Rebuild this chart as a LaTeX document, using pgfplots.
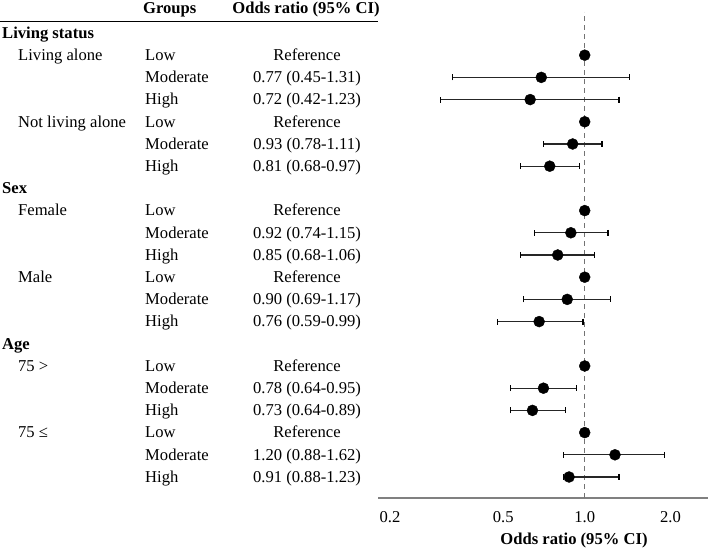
\documentclass[border=0pt]{standalone}
\usepackage{fontspec}
\setmainfont{Liberation Serif}
\usepackage{pgfplots}
\usepackage{pgfplotstable}
\pgfplotsset{compat=1.18}

% pos = vertical row position (counted from the bottom), or = odds ratio, lo/hi = 95% CI
\pgfplotstableread{
pos or lo hi
20 1.00 1.00 1.00
19 0.77 0.45 1.31
18 0.72 0.42 1.23
17 1.00 1.00 1.00
16 0.93 0.78 1.11
15 0.81 0.68 0.97
13 1.00 1.00 1.00
12 0.92 0.74 1.15
11 0.85 0.68 1.06
10 1.00 1.00 1.00
9  0.90 0.69 1.17
8  0.76 0.59 0.99
6  1.00 1.00 1.00
5  0.78 0.64 0.95
4  0.73 0.64 0.89
3  1.00 1.00 1.00
2  1.20 0.88 1.62
1  0.91 0.88 1.23
}\ordata

% row k (1 = top row "Living status") baseline
\newcommand{\colA}[2]{\node[anchor=base west,inner sep=0pt] at (2,{533.9-22.2*#1}) {\bfseries #2};}
\newcommand{\colB}[2]{\node[anchor=base west,inner sep=0pt] at (18,{533.9-22.2*#1}) {#2};}
\newcommand{\colC}[2]{\node[anchor=base west,inner sep=0pt] at (145,{533.9-22.2*#1}) {#2};}
\newcommand{\colD}[2]{\node[anchor=base,inner sep=0pt] at (307,{533.9-22.2*#1}) {#2};}

\begin{document}
\fontsize{16.6bp}{19bp}\selectfont
\begin{tikzpicture}[x=1bp,y=1bp]
\path[use as bounding box] (0,0) rectangle (708,550);

% header
\node[anchor=base west,inner sep=0pt] at (143,536) {\bfseries Groups};
\node[anchor=base,inner sep=0pt] at (306,536) {\bfseries Odds ratio (95\% CI)};
\draw[black,line width=1.5bp] (0,528.3) -- (378,528.3);

\colA{1}{Living status}
\colB{2}{Living alone}     \colC{2}{Low}      \colD{2}{Reference}
                           \colC{3}{Moderate} \colD{3}{0.77 (0.45-1.31)}
                           \colC{4}{High}     \colD{4}{0.72 (0.42-1.23)}
\colB{5}{Not living alone} \colC{5}{Low}      \colD{5}{Reference}
                           \colC{6}{Moderate} \colD{6}{0.93 (0.78-1.11)}
                           \colC{7}{High}     \colD{7}{0.81 (0.68-0.97)}
\colA{8}{Sex}
\colB{9}{Female}           \colC{9}{Low}      \colD{9}{Reference}
                           \colC{10}{Moderate} \colD{10}{0.92 (0.74-1.15)}
                           \colC{11}{High}     \colD{11}{0.85 (0.68-1.06)}
\colB{12}{Male}            \colC{12}{Low}      \colD{12}{Reference}
                           \colC{13}{Moderate} \colD{13}{0.90 (0.69-1.17)}
                           \colC{14}{High}     \colD{14}{0.76 (0.59-0.99)}
\colA{15}{Age}
\colB{16}{75 >}            \colC{16}{Low}      \colD{16}{Reference}
                           \colC{17}{Moderate} \colD{17}{0.78 (0.64-0.95)}
                           \colC{18}{High}     \colD{18}{0.73 (0.64-0.89)}
\colB{19}{75 ≤}            \colC{19}{Low}      \colD{19}{Reference}
                           \colC{20}{Moderate} \colD{20}{1.20 (0.88-1.62)}
                           \colC{21}{High}     \colD{21}{0.91 (0.88-1.23)}

% x label
\node[anchor=base,inner sep=0pt] at (574,5.7) {\bfseries Odds ratio (95\% CI)};

\begin{axis}[
  at={(378.3bp,52bp)}, anchor=south west,
  scale only axis, width=329.7bp, height=486bp,
  xmode=log, xmin=0.2884, xmax=2.1018,
  ymin=0.054, ymax=21.946,
  axis y line=none, axis x line=bottom,
  x axis line style={-, draw=black!50, line width=2.2bp},
  xtick={0.3095,0.6124,1,1.677},
  xticklabels={0.2,0.5,1.0,2.0},
  major tick length=0pt, minor tick num=0,
  xticklabel style={anchor=base, yshift=-24.5bp, inner sep=0pt},
  /pgf/number format/assume math mode=true,
  clip=false,
]
\addplot[draw=black!55, line width=1.3bp, dash pattern=on 5bp off 4bp, mark=none]
  coordinates {(1,0.054) (1,21.946)};
\addplot[only marks, mark=none,
  error bars/.cd, x dir=both, x explicit,
  error mark=|, error mark options={black, mark size=3bp, line width=1.2bp},
  error bar style={black!85, line width=1.3bp}]
  table[x=or, y=pos,
        x error plus expr=\thisrow{hi}-\thisrow{or},
        x error minus expr=\thisrow{or}-\thisrow{lo}] {\ordata};
\addplot[only marks, mark=*, mark size=5.5bp, black] table[x=or, y=pos] {\ordata};
\end{axis}
\end{tikzpicture}
\end{document}
